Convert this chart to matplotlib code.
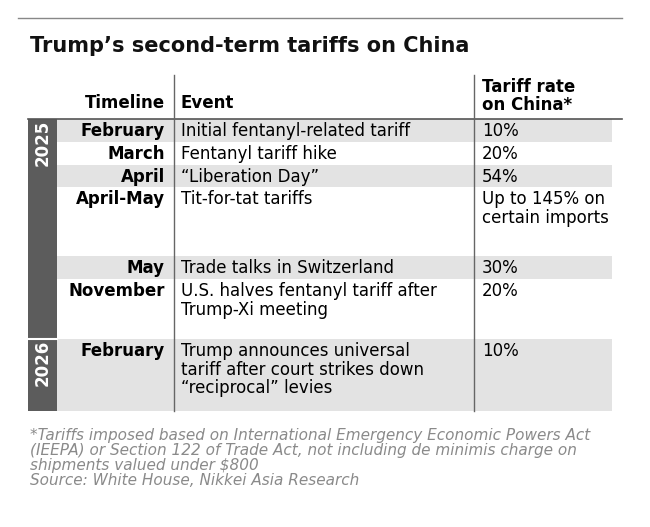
import matplotlib.pyplot as plt
from matplotlib.patches import Rectangle

title = "Trump\u2019s second-term tariffs on China"
headers = ["Timeline", "Event", "Tariff rate\non China*"]
years = ["2025", "2026"]
year_rows = [6, 1]
months = ["February", "March", "April", "April-May", "May", "November", "February"]
events = ["Initial fentanyl-related tariff", "Fentanyl tariff hike", "\u201cLiberation Day\u201d",
          "Tit-for-tat tariffs", "Trade talks in Switzerland",
          "U.S. halves fentanyl tariff after\nTrump-Xi meeting",
          "Trump announces universal\ntariff after court strikes down\n\u201creciprocal\u201d levies"]
rates = ["10%", "20%", "54%", "Up to 145% on\ncertain imports", "30%", "20%", "10%"]
footnote = ("*Tariffs imposed based on International Emergency Economic Powers Act\n"
            "(IEEPA) or Section 122 of Trade Act, not including de minimis charge on\n"
            "shipments valued under $800\nSource: White House, Nikkei Asia Research")

# row heights in pixels
heights = [23, 23, 22, 69, 23, 60, 72]

fig = plt.figure(figsize=(6.5, 5.27), dpi=100)
ax = fig.add_axes([0, 0, 1, 1])
ax.set_xlim(0, 650)
ax.set_ylim(527, 0)
ax.axis("off")

ax.plot([18, 622], [18, 18], color="#888888", lw=1)
ax.text(30, 46, title, fontsize=15, fontweight="bold", va="center", color="#111111")

ax.text(165, 103, headers[0], fontsize=12, fontweight="bold", ha="right", va="center")
ax.text(181, 103, headers[1], fontsize=12, fontweight="bold", ha="left", va="center")
ax.text(482, 96, headers[2], fontsize=12, fontweight="bold", ha="left", va="center", linespacing=1.0)

top = 119
y = top
for i, h in enumerate(heights):
    if i % 2 == 0:
        ax.add_patch(Rectangle((57, y), 555, h, color="#e3e3e3", lw=0))
    ax.text(165, y + 12, months[i], fontsize=12, fontweight="bold", ha="right", va="center")
    ax.text(181, y + 3, events[i], fontsize=12, ha="left", va="top", linespacing=1.05)
    ax.text(482, y + 3, rates[i], fontsize=12, ha="left", va="top", linespacing=1.05)
    y += h
bottom = y

yy = top
for k, (yr, n) in enumerate(zip(years, year_rows)):
    h = sum(heights[:n]) if k == 0 else sum(heights[-n:])
    ax.add_patch(Rectangle((28, yy), 29, h, color="#5c5c5c", lw=0))
    ax.text(42.5, yy + 24, yr, fontsize=12, fontweight="bold", color="white",
            rotation=90, ha="center", va="center")
    yy += h
sep = top + sum(heights[:6])
ax.plot([28, 57], [sep, sep], color="white", lw=1.5)
ax.plot([28, 622], [top, top], color="#555555", lw=1.2)
ax.plot([174, 174], [75, bottom], color="#666666", lw=1)
ax.plot([474, 474], [75, bottom], color="#666666", lw=1)

ax.text(30, 428, footnote, fontsize=11, style="italic", color="#8a8a8a", va="top", linespacing=1.0)

fig.savefig("out.png", dpi=100, facecolor="white")
